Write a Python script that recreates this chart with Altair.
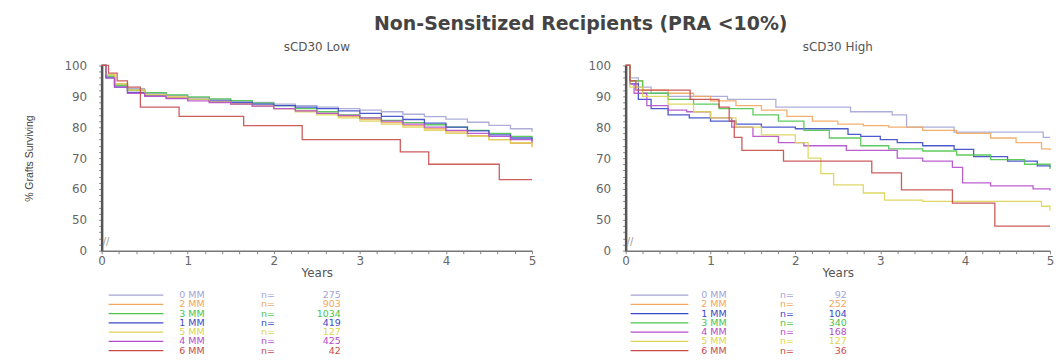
import altair as alt
import pandas as pd

groups = ["0 MM", "1 MM", "2 MM", "3 MM", "4 MM", "5 MM", "6 MM"]
group_colors = ["#a4a4d6", "#3a48c8", "#f2a65e", "#4cc44c", "#b44ccc", "#dcd454", "#c84a4a"]

# ---- sCD30 Low panel (years, % grafts surviving) ----
low_t = [0, 0.05, 0.15, 0.3, 0.5, 0.75, 1, 1.25, 1.5, 1.75, 2, 2.25, 2.5, 2.75, 3, 3.25, 3.5, 3.75, 4, 4.25, 4.5, 4.75, 5]
low_0mm = [100, 97, 94, 92.5, 91, 90.3, 89.6, 89, 88.5, 88, 87.5, 87, 86.5, 86, 85.5, 85, 84.2, 83.4, 82.6, 81.6, 80.6, 79.5, 78.5]
low_2mm = [100, 97, 94, 92, 90.5, 89.8, 89, 88.3, 87.6, 86.8, 86, 85.3, 84.5, 83.5, 82.5, 81.5, 80.5, 79.5, 78.5, 77.3, 76, 74.8, 73.5]
low_3mm = [100, 96.5, 93.5, 92, 91.2, 90.5, 89.8, 89.2, 88.6, 87.8, 87, 86, 85, 84, 83, 82.2, 81.5, 80.8, 80, 79, 78, 77, 76]
low_1mm = [100, 96, 93, 91.3, 90.2, 89.5, 89, 88.5, 88, 87.5, 87, 86.5, 86, 85.3, 84.5, 83.5, 82.5, 81.3, 80, 78.8, 77.5, 76.5, 75.5]
low_5mm = [100, 97, 94, 92, 90.5, 89.7, 89, 88.2, 87.5, 86.8, 86, 85, 84, 83, 82, 81, 80, 79, 78, 77, 76, 75, 74]
low_4mm = [100, 96, 93, 91, 90, 89.3, 88.5, 88, 87.5, 86.8, 86, 85.3, 84.5, 83.8, 83, 82, 81, 80, 79, 78, 77, 76, 75]
low_6mm_t = [0, 0.08, 0.18, 0.3, 0.45, 0.9, 1.65, 2.33, 3.47, 3.8, 4.62, 5]
low_6mm = [100, 97.5, 95, 93, 86.5, 83.5, 80.5, 76, 72, 68, 63, 63]

# ---- sCD30 High panel ----
high_0mm_t = [0, 0.05, 0.15, 0.3, 0.5, 1.2, 1.77, 2.65, 3.14, 3.31, 3.87, 4.92, 5]
high_0mm = [100, 96, 93, 91, 90, 89, 86.5, 85, 84, 80, 78.4, 76.7, 76.7]
high_2mm_t = [0, 0.05, 0.2, 0.5, 0.8, 1.0, 1.3, 1.6, 1.9, 2.2, 2.5, 2.8, 3.1, 3.5, 3.9, 4.3, 4.6, 4.9, 5]
high_2mm = [100, 95, 92, 91, 90, 88.5, 87, 85.5, 83.5, 82, 81, 80.5, 80, 79, 78, 76.5, 75, 73, 72.5]
high_1mm_t = [0, 0.05, 0.15, 0.3, 0.5, 0.75, 1.0, 1.3, 1.6, 2.0, 2.62, 2.77, 3.0, 3.2, 3.5, 3.87, 4.1, 4.5, 4.85, 5]
high_1mm = [100, 94, 89, 86, 84, 83, 82, 81, 80, 79.5, 77.7, 77, 76, 75, 74, 72.8, 70.5, 69, 67.5, 67]
high_3mm_t = [0, 0.05, 0.2, 0.5, 0.8, 1.1, 1.5, 1.8, 2.1, 2.4, 2.77, 3.1, 3.5, 3.9, 4.3, 4.7, 5]
high_3mm = [100, 95, 91, 89, 87.5, 86, 84, 82, 79, 76.5, 74, 73, 72.3, 71, 69.5, 68, 66.5]
high_4mm_t = [0, 0.05, 0.1, 0.25, 0.5, 0.72, 1.0, 1.25, 1.5, 1.8, 2.1, 2.6, 3.2, 3.5, 3.85, 3.97, 4.3, 4.8, 5]
high_4mm = [100, 94, 91, 87, 85.5, 85, 83, 80, 77, 75, 74, 72.5, 70, 69, 67, 62, 61, 60, 59.5]
high_5mm_t = [0, 0.05, 0.2, 0.5, 0.8, 1.0, 1.3, 1.6, 2.0, 2.15, 2.3, 2.45, 2.8, 3.05, 3.5, 4.9, 5]
high_5mm = [100, 93, 90, 87.5, 85, 83, 80, 77.5, 75, 70, 65, 61.3, 58.7, 56.4, 56, 54.4, 53]
high_6mm_t = [0, 0.05, 0.12, 0.76, 1.1, 1.22, 1.28, 1.37, 1.86, 2.9, 3.25, 3.85, 4.35, 5]
high_6mm = [100, 95, 92, 89, 86.5, 82, 76.7, 72.5, 69, 65.2, 59.7, 55.4, 48, 48]

# ---- legends (row order as printed) ----
low_leg_groups = ["0 MM", "2 MM", "3 MM", "1 MM", "5 MM", "4 MM", "6 MM"]
low_leg_n = [275, 903, 1034, 419, 127, 425, 42]
high_leg_groups = ["0 MM", "2 MM", "1 MM", "3 MM", "4 MM", "5 MM", "6 MM"]
high_leg_n = [92, 252, 104, 340, 168, 127, 36]

FONT = "DejaVu Sans"
color_scale = alt.Scale(domain=groups, range=group_colors)


def curves_df(series):
    rows = []
    for g, ts, ss in series:
        for t, s in zip(ts, ss):
            rows.append({"group": g, "t": t, "s": s})
    return pd.DataFrame(rows)


low_df = curves_df([
    ("0 MM", low_t, low_0mm), ("2 MM", low_t, low_2mm), ("3 MM", low_t, low_3mm),
    ("1 MM", low_t, low_1mm), ("5 MM", low_t, low_5mm), ("4 MM", low_t, low_4mm),
    ("6 MM", low_6mm_t, low_6mm),
])
high_df = curves_df([
    ("0 MM", high_0mm_t, high_0mm), ("2 MM", high_2mm_t, high_2mm), ("1 MM", high_1mm_t, high_1mm),
    ("3 MM", high_3mm_t, high_3mm), ("4 MM", high_4mm_t, high_4mm), ("5 MM", high_5mm_t, high_5mm),
    ("6 MM", high_6mm_t, high_6mm),
])

x_ticks = [i / 5 for i in range(26)]
y_ticks = list(range(40, 101, 2))
PH = 186


def panel(df, width, subtitle, ytitle):
    x_axis = alt.Axis(
        values=x_ticks, labelExpr="datum.value % 1 === 0 ? datum.value : ''",
        title="Years", titleFont=FONT, titleFontSize=12, titleFontWeight="normal", titleColor="#555",
        titlePadding=1, labelFont=FONT, labelFontSize=12, labelColor="#666",
        domainColor="#777", domainWidth=1.5, tickColor="#888", tickSize=3,
        labelPadding=2, grid=False, labelFlush=False,
    )
    y_kwargs = dict(
        values=y_ticks, labelExpr="datum.value % 10 === 0 ? (datum.value === 40 ? '0' : datum.value) : ''",
        labelFont=FONT, labelFontSize=12, labelColor="#666",
        domainColor="#555", domainWidth=2.5, tickColor="#888", tickSize=3,
        labelPadding=12, grid=False,
    )
    if ytitle:
        y_axis = alt.Axis(title=ytitle, titleFont="Liberation Sans", titleFontSize=10.5,
                          titleFontWeight="normal", titleColor="#444", titlePadding=30, **y_kwargs)
    else:
        y_axis = alt.Axis(title=None, **y_kwargs)
    lines = alt.Chart(df).mark_line(interpolate="step-after", strokeWidth=1.3, opacity=0.9).encode(
        x=alt.X("t:Q", scale=alt.Scale(domain=[0, 5], nice=False), axis=x_axis),
        y=alt.Y("s:Q", scale=alt.Scale(domain=[40, 100], nice=False, zero=False), axis=y_axis),
        color=alt.Color("group:N", scale=color_scale, legend=None),
        detail="group:N",
    )
    brk = alt.Chart(pd.DataFrame({"m": ["//"]})).mark_text(
        font=FONT, fontSize=10, color="#999", align="left", baseline="middle"
    ).encode(x=alt.value(1), y=alt.value(PH - 9), text="m:N")
    return alt.layer(lines, brk).properties(
        width=width, height=PH,
        title=alt.TitleParams(subtitle, font=FONT, fontSize=12, fontWeight="normal", color="#555", offset=5),
    )


def legend(leg_groups, leg_n, width, x0, x1, xmm, xeq, xnum):
    df = pd.DataFrame({"row": list(range(len(leg_groups))), "group": leg_groups,
                       "n": [str(v) for v in leg_n], "eq": ["n="] * len(leg_groups)})
    y = alt.Y("row:O", axis=None, scale=alt.Scale(paddingOuter=0, paddingInner=0))
    col = alt.Color("group:N", scale=color_scale, legend=None)
    rule = alt.Chart(df).mark_rule(strokeWidth=1.2).encode(
        x=alt.value(x0), x2=alt.value(x1), y=y, color=col)
    mm = alt.Chart(df).mark_text(align="left", baseline="middle", font=FONT, fontSize=9.5).encode(
        x=alt.value(xmm), y=y, text="group:N", color=col)
    eq = alt.Chart(df).mark_text(align="left", baseline="middle", font=FONT, fontSize=9.5).encode(
        x=alt.value(xeq), y=y, text="eq:N", color=col)
    nn = alt.Chart(df).mark_text(align="right", baseline="middle", font=FONT, fontSize=9.5).encode(
        x=alt.value(xnum), y=y, text="n:N", color=col)
    return alt.layer(rule, mm, eq, nn).properties(width=width, height=65)


left = alt.vconcat(
    panel(low_df, 432, "sCD30 Low", "% Grafts Surviving"),
    legend(low_leg_groups, low_leg_n, 432, 7, 62, 78, 160, 240),
    spacing=11,
)
right = alt.vconcat(
    panel(high_df, 426, "sCD30 High", None),
    legend(high_leg_groups, high_leg_n, 426, 5, 63, 76, 155, 222),
    spacing=11,
)

chart = alt.hconcat(left, right, spacing=52).properties(
    title=alt.TitleParams("Non-Sensitized Recipients (PRA <10%)", font=FONT, fontSize=19,
                          fontWeight="bold", color="#444", anchor="middle", offset=8, dx=42),
    padding={"left": 16, "top": 6, "right": 0, "bottom": 0},
).configure_view(stroke=None)

chart.save("out.html", embed_options={"renderer": "svg", "actions": False})
